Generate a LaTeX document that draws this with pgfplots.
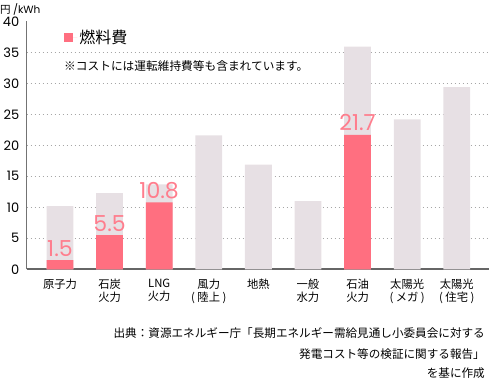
\documentclass[border=0pt]{standalone}
\usepackage{fontspec}
\setmainfont{Noto Sans CJK JP}
\newfontfamily\numfont{Poppins}
\usepackage{pgfplots}
\pgfplotsset{compat=1.18}
\definecolor{graybar}{HTML}{E7E0E4}
\definecolor{fuel}{HTML}{FF6F80}
\definecolor{lab}{HTML}{FF7D8D}
\begin{document}
\begin{tikzpicture}
\path[use as bounding box] (0,0) rectangle (489pt,-379pt);
\begin{axis}[
 at={(26.7pt,-269.3pt)}, anchor=south west,
 scale only axis, width=462.3pt, height=248pt,
 xmin=-0.671, xmax=8.65, ymin=0, ymax=40,
 axis x line=bottom, axis y line=left, axis line style={-},
 x axis line style={draw=black!60, line width=2pt},
 y axis line style={draw=black!55, line width=1.5pt},
 xtick={0,...,8},
 xticklabels={原子力, 石炭\\火力, LNG\\火力, 風力\\(~陸上~), 地熱, 一般\\水力, 石油\\火力, 太陽光\\(~メガ~), 太陽光\\(~住宅~)},
 x tick label style={align=center, font=\fontsize{11.3}{13.5}\selectfont, anchor=north, yshift=-6pt},
 ytick={0,5,...,35}, extra y ticks={40}, extra y tick style={grid=none},
 ymajorgrids, grid style={draw=black!35, line width=0.8pt, dash pattern=on 1.2pt off 2.8pt},
 major tick length=0,
 yticklabel style={font=\numfont\fontsize{13}{13}\selectfont, xshift=-4pt},
 /pgf/number format/assume math mode=true,
 legend style={at={(0.0813,0.933)}, anchor=west, draw=none, fill=none, inner sep=0pt, font=\fontsize{16}{16}\selectfont},
 legend cell align=left,
 legend image code/.code={\path (0pt,0pt) -- (13pt,0pt); \fill[fuel] (0pt,-4.5pt) rectangle (9pt,4.5pt);},
 clip=false,
]
\addplot[ybar, bar width=0.54, bar shift=0pt, fill=graybar, draw=none, forget plot]
 coordinates {(0,10.2) (1,12.3) (2,13.7) (3,21.6) (4,16.9) (5,11.0) (6,35.9) (7,24.2) (8,29.4)};
\addplot[ybar, bar width=0.54, bar shift=0pt, fill=fuel, draw=none,
 nodes near coords, every node near coord/.append style={anchor=south, yshift=3.5pt, inner sep=0pt, font=\numfont\fontsize{22}{22}\selectfont, text=lab}]
 coordinates {(0,1.5) (1,5.5) (2,10.8) (6,21.7)};
\addlegendentry{燃料費}
\end{axis}
\node[anchor=west, inner sep=0pt, font=\fontsize{10.5}{10.5}\selectfont] at (0pt,-9pt) {円 {\numfont /kWh}};
\node[anchor=west, inner sep=0pt, font=\fontsize{11.7}{11.7}\selectfont] at (64pt,-66pt) {※コストには運転維持費等も含まれています。};
\node[anchor=east, inner sep=0pt, font=\fontsize{11.6}{11.6}\selectfont] at (485pt,-333pt) {出典：資源エネルギー庁「長期エネルギー需給見通し小委員会に対する};
\node[anchor=east, inner sep=0pt, font=\fontsize{11.6}{11.6}\selectfont] at (485pt,-354pt) {発電コスト等の検証に関する報告」};
\node[anchor=east, inner sep=0pt, font=\fontsize{11.6}{11.6}\selectfont] at (485pt,-373pt) {を基に作成};
\end{tikzpicture}
\end{document}
